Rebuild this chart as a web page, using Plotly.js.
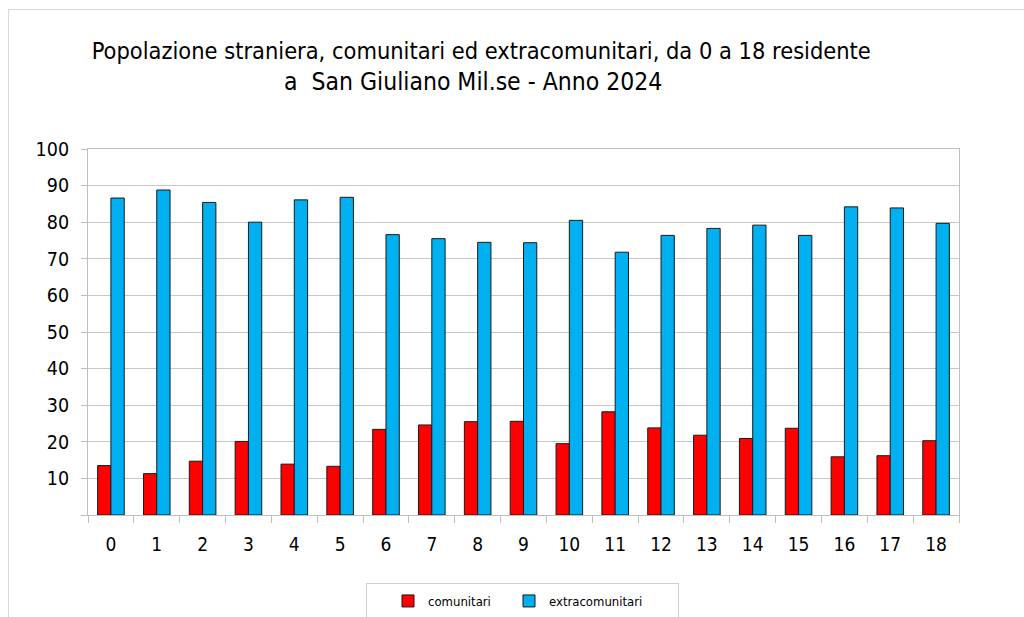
<!DOCTYPE html>
<html>
<head>
<meta charset="utf-8">
<script src="https://cdn.plot.ly/plotly-3.0.1.min.js"></script>
<style>
  html, body { margin: 0; padding: 0; background: #ffffff; }
  #wrap { position: relative; width: 1024px; height: 617px; overflow: hidden; }
  #chart { width: 1024px; height: 617px; }
  #frame { position: absolute; left: 8px; top: 9px; width: 1200px; height: 800px;
           border: 1px solid #d9d9d9; pointer-events: none; box-sizing: border-box; }
  #legbox { position: absolute; left: 366px; top: 583px; width: 313px; height: 60px;
            border: 1px solid #d0d0d0; pointer-events: none; box-sizing: border-box; }
</style>
</head>
<body>
<div id="wrap">
  <div id="chart"></div>
  <div id="frame"></div>
  <div id="legbox"></div>
</div>
<script>
const ages = ["0","1","2","3","4","5","6","7","8","9","10","11","12","13","14","15","16","17","18"];
const comunitari = [13.5, 11.3, 14.7, 20.1, 13.9, 13.3, 23.4, 24.6, 25.5, 25.6, 19.5, 28.2, 23.8, 21.8, 20.9, 23.7, 15.9, 16.2, 20.3];
const extracomunitari = [86.6, 88.8, 85.4, 80.0, 86.1, 86.8, 76.6, 75.5, 74.5, 74.4, 80.5, 71.8, 76.4, 78.3, 79.2, 76.4, 84.2, 83.9, 79.7];
const yTickVals = [0, 10, 20, 30, 40, 50, 60, 70, 80, 90, 100];
const yTickText = ["", "10", "20", "30", "40", "50", "60", "70", "80", "90", "100"];
const seriesNames = ["comunitari", "extracomunitari"];
const titleLine1 = "Popolazione straniera, comunitari ed extracomunitari, da 0 a 18 residente";
const titleLine2 = "a\u00a0 San Giuliano Mil.se - Anno 2024";

const FONT = "DejaVu Sans Condensed, DejaVu Sans, sans-serif";
const GRID = "#c8c8c8";
const AXIS = "#bfbfbf";

const traces = [
  { type: "bar", x: ages, y: comunitari, name: seriesNames[0], legend: "legend",
    marker: { color: "#ff0000", line: { color: "#1a1a1a", width: 1 } } },
  { type: "bar", x: ages, y: extracomunitari, name: seriesNames[1], legend: "legend2",
    marker: { color: "#00b0f0", line: { color: "#1a1a1a", width: 1 } } }
];

const legendBase = {
  orientation: "h", xanchor: "left", y: -(586 - 515) / 366, yanchor: "top",
  borderwidth: 0, bgcolor: "rgba(0,0,0,0)",
  font: { family: FONT, size: 13, color: "#000000" }, itemwidth: 30
};

const layout = {
  width: 1024, height: 617,
  margin: { l: 88, r: 65, t: 149, b: 102, autoexpand: false },
  paper_bgcolor: "rgba(0,0,0,0)",
  plot_bgcolor: "#ffffff",
  font: { family: FONT, color: "#000000" },
  title: { text: titleLine1, font: { family: FONT, size: 23.4, color: "#000000" },
           xref: "container", x: 0.47, xanchor: "center",
           yref: "container", y: 1 - 43 / 617, yanchor: "top" },
  annotations: [
    { text: titleLine2, showarrow: false, xref: "paper", yref: "paper",
      x: (473 - 88) / 871, xanchor: "center", y: (515 - 81) / 366, yanchor: "middle",
      font: { family: FONT, size: 24.5, color: "#000000" } }
  ],
  barmode: "group",
  bargap: 0.42,
  bargroupgap: 0,
  showlegend: true,
  legend: Object.assign({}, legendBase, { x: (388 - 88) / 871 }),
  legend2: Object.assign({}, legendBase, { x: (509 - 88) / 871 }),
  xaxis: { type: "category", tickson: "boundaries", ticks: "outside", ticklen: 7,
           tickcolor: AXIS, showline: true, linecolor: AXIS, mirror: true,
           showgrid: false, tickfont: { family: FONT, size: 19, color: "#000000" },
           ticklabelstandoff: 12, fixedrange: true },
  yaxis: { range: [0, 100], tickmode: "array", tickvals: yTickVals, ticktext: yTickText,
           ticks: "outside", ticklen: 6, tickcolor: AXIS, showline: true, linecolor: AXIS,
           mirror: true, showgrid: true, gridcolor: GRID, zeroline: false,
           tickfont: { family: FONT, size: 19.5, color: "#000000" },
           ticklabelstandoff: 8, fixedrange: true }
};

Plotly.newPlot("chart", traces, layout, { displayModeBar: false, staticPlot: true });
</script>
</body>
</html>
